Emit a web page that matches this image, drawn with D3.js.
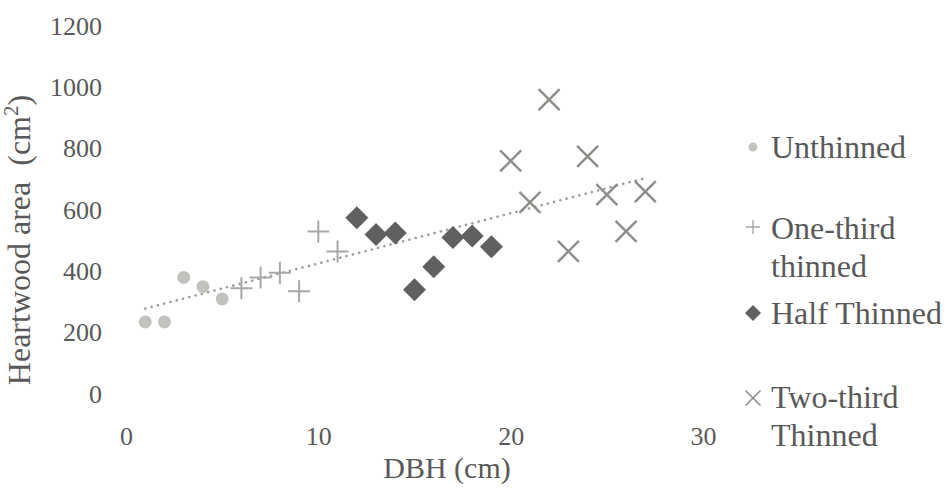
<!DOCTYPE html>
<html>
<head>
<meta charset="utf-8">
<script src="https://cdn.jsdelivr.net/npm/d3@7"></script>
<style>
  body { margin: 0; background: #fff; }
</style>
</head>
<body>
<div id="chart"></div>
<script>
// DBH (cm) for each treatment, heartwood area (cm2)
const unthinnedX = [1, 2, 3, 4, 5];
const unthinnedY = [235, 235, 380, 350, 310];
const oneThirdX = [6, 7, 8, 9, 10, 11];
const oneThirdY = [345, 380, 395, 335, 530, 465];
const halfX = [12, 13, 14, 15, 16, 17, 18, 19];
const halfY = [575, 520, 525, 340, 415, 510, 515, 480];
const twoThirdX = [20, 21, 22, 23, 24, 25, 26, 27];
const twoThirdY = [760, 625, 960, 465, 775, 650, 530, 660];

const xTicks = [0, 10, 20, 30];
const yTicks = [0, 200, 400, 600, 800, 1000, 1200];

const width = 947, height = 490;
const serif = '"Liberation Serif", serif';
const textColor = "#595959";

const svg = d3.select("#chart").append("svg")
    .attr("width", width)
    .attr("height", height);

const x = d3.scaleLinear().domain([0, 30]).range([126, 703]);
const y = d3.scaleLinear().domain([0, 1200]).range([394, 26]);

// axes, labels only
const xAxis = svg.append("g")
    .attr("transform", `translate(0,${y(0)})`)
    .call(d3.axisBottom(x).tickValues(xTicks).tickFormat(d3.format("d")).tickSize(0).tickPadding(33));
const yAxis = svg.append("g")
    .attr("transform", `translate(${x(0)},0)`)
    .call(d3.axisLeft(y).tickValues(yTicks).tickFormat(d3.format("d")).tickSize(0).tickPadding(24));
[xAxis, yAxis].forEach(a => {
    a.attr("font-family", serif).attr("font-size", 26);
    a.select(".domain").remove();
    a.selectAll("text")
        .attr("font-family", serif)
        .style("font-family", serif)
        .attr("fill", textColor);
});

function label(sel, size) {
    return sel.attr("font-family", serif)
        .style("font-family", serif)
        .attr("font-size", size)
        .attr("fill", textColor);
}

// axis titles
label(svg.append("text"), 30)
    .attr("x", 447)
    .attr("y", 478)
    .attr("text-anchor", "middle")
    .text("DBH (cm)");

const yTitle = label(svg.append("text"), 32)
    .attr("transform", `translate(30,240) rotate(-90)`)
    .attr("text-anchor", "middle");
yTitle.append("tspan").text("Heartwood area\u00a0\u00a0(cm");
yTitle.append("tspan").attr("baseline-shift", "super").attr("font-size", 21).text("2");
yTitle.append("tspan").text(")");

// trend line through all points (least squares)
const allX = unthinnedX.concat(oneThirdX, halfX, twoThirdX);
const allY = unthinnedY.concat(oneThirdY, halfY, twoThirdY);
const mx = d3.mean(allX), my = d3.mean(allY);
const slope = d3.sum(allX, (d, i) => (d - mx) * (allY[i] - my)) / d3.sum(allX, d => (d - mx) * (d - mx));
const intercept = my - slope * mx;
const ext = d3.extent(allX);
const trend = ext.map(d => ({ x: d, y: intercept + slope * d }));

svg.append("path")
    .datum(trend)
    .attr("fill", "none")
    .attr("stroke", "#9d9d9b")
    .attr("stroke-width", 2.6)
    .attr("stroke-dasharray", "0.1,6.4")
    .attr("stroke-linecap", "round")
    .attr("d", d3.line().x(d => x(d.x)).y(d => y(d.y)));

// marker drawing helpers
function circleMark(g, cx, cy, r) {
    g.append("circle").attr("cx", cx).attr("cy", cy).attr("r", r).attr("fill", "#c3c2be");
}
function plusMark(g, cx, cy, s, w) {
    g.append("path")
        .attr("d", `M${cx - s},${cy}H${cx + s}M${cx},${cy - s}V${cy + s}`)
        .attr("stroke", "#a8a7a3").attr("stroke-width", w).attr("fill", "none");
}
function diamondMark(g, cx, cy, s) {
    g.append("path")
        .attr("d", `M${cx},${cy - s}L${cx + s},${cy}L${cx},${cy + s}L${cx - s},${cy}Z`)
        .attr("fill", "#606060");
}
function crossMark(g, cx, cy, s, w) {
    g.append("path")
        .attr("d", `M${cx - s},${cy - s}L${cx + s},${cy + s}M${cx - s},${cy + s}L${cx + s},${cy - s}`)
        .attr("stroke", "#8e8d8a").attr("stroke-width", w).attr("fill", "none");
}

const pts = svg.append("g");
unthinnedX.forEach((d, i) => circleMark(pts, x(d), y(unthinnedY[i]), 6.5));
oneThirdX.forEach((d, i) => plusMark(pts, x(d), y(oneThirdY[i]), 11, 2));
halfX.forEach((d, i) => diamondMark(pts, x(d), y(halfY[i]), 11.5));
twoThirdX.forEach((d, i) => crossMark(pts, x(d), y(twoThirdY[i]), 10.5, 2.4));

// legend
const legend = svg.append("g");
const legX = 753, textX = 771;
circleMark(legend, legX, 147, 4.5);
plusMark(legend, legX, 227, 7, 1.4);
diamondMark(legend, legX, 313, 8);
crossMark(legend, legX, 398, 7.5, 1.6);

const legendLines = [
    { t: "Unthinned", y: 158 },
    { t: "One-third", y: 239 },
    { t: "thinned", y: 277 },
    { t: "Half Thinned", y: 324 },
    { t: "Two-third", y: 408 },
    { t: "Thinned", y: 446 }
];
legend.selectAll("text.leg")
    .data(legendLines)
    .enter()
    .append("text")
    .attr("class", "leg")
    .attr("x", textX)
    .attr("y", d => d.y)
    .call(label, 32)
    .text(d => d.t);
</script>
</body>
</html>
